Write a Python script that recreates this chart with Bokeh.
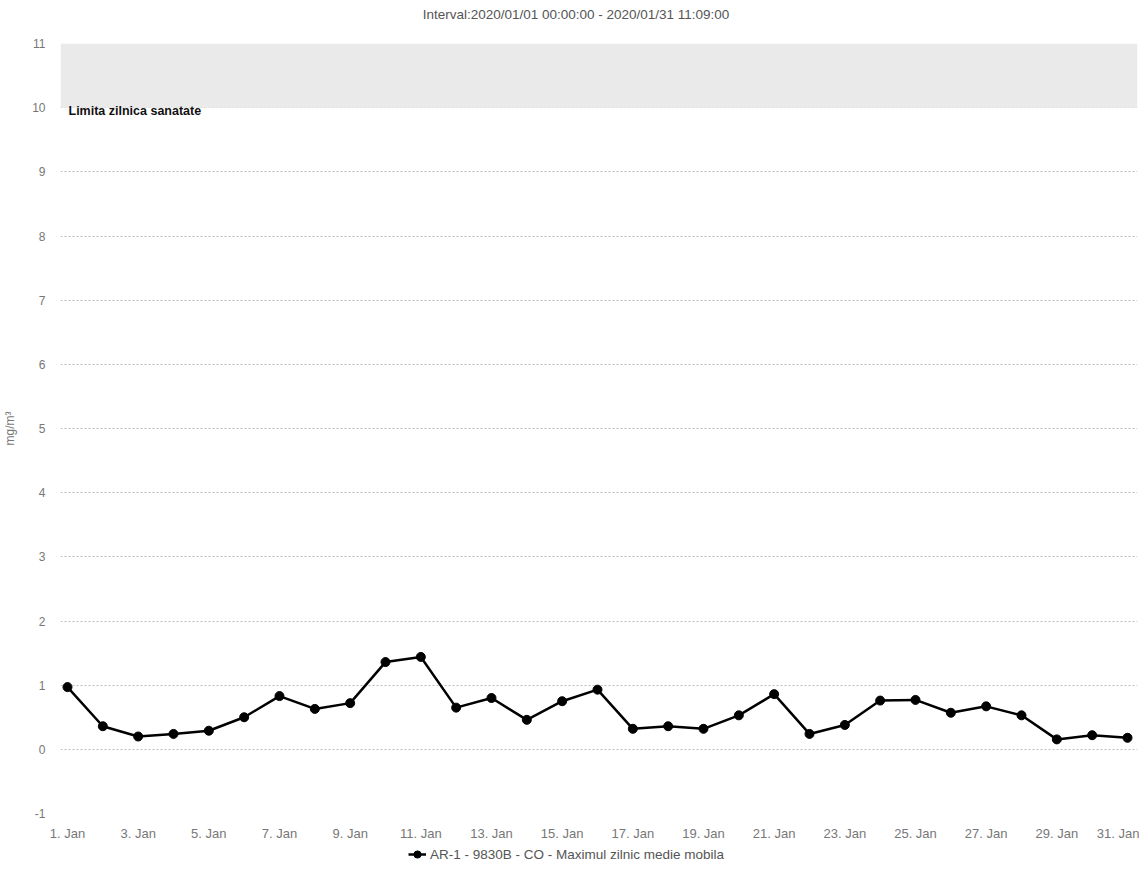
from bokeh.plotting import figure
from bokeh.layouts import column
from bokeh.models import (ColumnDataSource, BoxAnnotation, Label, Legend, LegendItem,
                          FixedTicker, Range1d)
from bokeh.embed import file_html
from bokeh.resources import INLINE

# ---- data ----
days = list(range(1, 32))
co_values = [0.97, 0.36, 0.20, 0.24, 0.29, 0.50, 0.83, 0.63, 0.72, 1.36,
             1.44, 0.65, 0.80, 0.46, 0.75, 0.93, 0.32, 0.36, 0.32, 0.53,
             0.86, 0.24, 0.38, 0.76, 0.77, 0.57, 0.67, 0.53, 0.155, 0.22, 0.18]
tick_days = list(range(1, 32, 2))
tick_labels = [f"{d}. Jan" for d in tick_days]
y_ticks = list(range(-1, 12))
series_name = "AR-1 - 9830B - CO - Maximul zilnic medie mobila"
title_text = "Interval:2020/01/01 00:00:00 - 2020/01/31 11:09:00"
band_low, band_high = 10, 11
band_label = "Limita zilnica sanatate"
y_unit = "mg/m³"

FONT = "Liberation Sans"
GRAY = "#777777"
W = 1139
LEFT = 60  # left border of the aligned frames


def bare_fig(h):
    f = figure(width=W, height=h, output_backend="svg", toolbar_location=None,
               x_axis_type=None, y_axis_type=None, min_border=0,
               x_range=Range1d(-3, -2), y_range=Range1d(-3, -2))
    f.outline_line_color = None
    f.xgrid.grid_line_color = None
    f.ygrid.grid_line_color = None
    return f


# ---- title strip ----
t = bare_fig(28)
t.add_layout(Label(x=W / 2 + 6 - LEFT, y=14, x_units="screen", y_units="screen", text=title_text,
                   text_font=FONT, text_font_size="13.5px", text_color="#555555",
                   text_align="center", text_baseline="middle"))

# ---- main chart ----
p = figure(frame_width=1077, frame_height=770, output_backend="svg", toolbar_location=None,
           x_range=Range1d(0.802, 31.283), y_range=Range1d(-1, 11),
           min_border_left=LEFT, min_border_right=2, min_border_top=15, min_border_bottom=29)
p.outline_line_color = None
p.background_fill_color = "white"
p.border_fill_color = "white"

p.add_layout(BoxAnnotation(bottom=band_low, top=band_high, fill_color="#eaeaea",
                           fill_alpha=1, line_color=None, level="underlay"))
p.add_layout(Label(x=8, x_units="screen", y=band_low, y_offset=-3, text=band_label,
                   text_font=FONT, text_font_size="12.5px", text_font_style="bold",
                   text_color="#111111", text_baseline="middle", text_align="left"))

src = ColumnDataSource(dict(x=days, y=co_values))
p.line("x", "y", source=src, line_color="black", line_width=2.5)
p.scatter("x", "y", source=src, size=9, fill_color="black", line_color="black")

xa = p.xaxis[0]
xa.ticker = FixedTicker(ticks=tick_days)
xa.major_label_overrides = {d: lab for d, lab in zip(tick_days, tick_labels)}
xa.axis_line_color = None
xa.major_tick_line_color = None
xa.minor_tick_line_color = None
xa.major_tick_out = 0
xa.major_tick_in = 0
xa.minor_tick_out = 0
xa.minor_tick_in = 0
xa.major_label_text_font = FONT
xa.major_label_text_font_size = "13px"
xa.major_label_text_color = GRAY
xa.major_label_standoff = 12

ya = p.yaxis[0]
ya.ticker = FixedTicker(ticks=y_ticks)
ya.major_label_overrides = {-1: "-1"}
ya.axis_line_color = None
ya.major_tick_line_color = None
ya.minor_tick_line_color = None
ya.major_tick_out = 0
ya.major_tick_in = 0
ya.minor_tick_out = 0
ya.minor_tick_in = 0
ya.major_label_text_font = FONT
ya.major_label_text_font_size = "12px"
ya.major_label_text_color = GRAY
ya.major_label_standoff = 15
ya.axis_label = y_unit
ya.axis_label_text_font = FONT
ya.axis_label_text_font_size = "12px"
ya.axis_label_text_font_style = "normal"
ya.axis_label_text_color = GRAY
ya.axis_label_standoff = 12

p.xgrid.grid_line_color = None
p.ygrid.grid_line_color = "#bdbdbd"
p.ygrid.grid_line_dash = "2 2"
p.ygrid.grid_line_width = 1

# ---- legend strip (legend renderers share the series data, kept out of view) ----
lg = bare_fig(22)
l_line = lg.line("x", "y", source=src, line_color="black", line_width=2.5)
l_pts = lg.scatter("x", "y", source=src, size=9, fill_color="black", line_color="black")
legend = Legend(items=[LegendItem(label=series_name, renderers=[l_line, l_pts])],
                location=(408 - LEFT, 1), orientation="horizontal",
                label_text_font=FONT, label_text_font_size="13.5px", label_text_color="#555555",
                border_line_color=None, background_fill_alpha=0,
                glyph_width=18, glyph_height=20, label_height=20, padding=0, margin=0,
                spacing=0, label_standoff=4)
lg.add_layout(legend, "center")

layout = column(t, p, lg, spacing=0)
open("out.html", "w").write(file_html(layout, INLINE))
